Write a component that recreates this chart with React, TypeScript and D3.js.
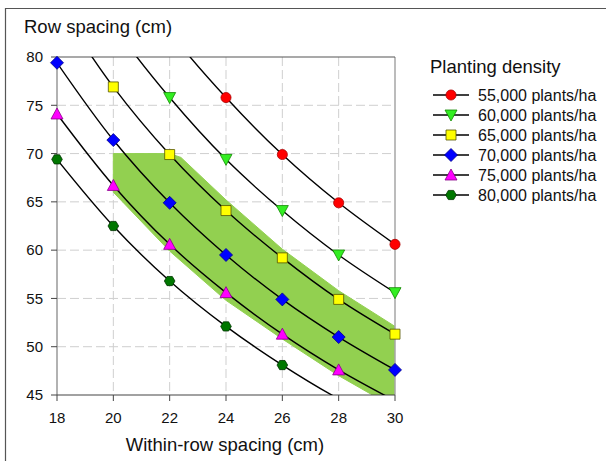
import React from "react";
import * as d3 from "d3";

const withinRow = [18, 20, 22, 24, 26, 28, 30];
const densities = ["55,000 plants/ha", "60,000 plants/ha", "65,000 plants/ha", "70,000 plants/ha", "75,000 plants/ha", "80,000 plants/ha"];
const s55 = [101.0, 90.9, 82.6, 75.8, 69.9, 64.9, 60.6];
const s60 = [92.6, 83.3, 75.8, 69.4, 64.1, 59.5, 55.6];
const s65 = [85.5, 76.9, 69.9, 64.1, 59.2, 54.9, 51.3];
const s70 = [79.4, 71.4, 64.9, 59.5, 54.9, 51.0, 47.6];
const s75 = [74.1, 66.7, 60.6, 55.6, 51.3, 47.6, 44.4];
const s80 = [69.4, 62.5, 56.8, 52.1, 48.1, 44.6, 41.7];
const seriesValues = [s55, s60, s65, s70, s75, s80];

const bandX = [20, 22, 22.4, 24, 26, 28, 30, 30, 29.2, 28, 26, 24, 22, 20];
const bandY = [70, 70, 69.6, 65.2, 60.1, 55.8, 52.1, 45, 45, 47.0, 50.8, 54.8, 59.9, 66.0];

const xTicks = [18, 20, 22, 24, 26, 28, 30];
const yTicks = [45, 50, 55, 60, 65, 70, 75, 80];

const fills = ["#ff0000", "#33ee22", "#ffff00", "#0000ff", "#ff00ff", "#007700"];
const strokes = ["#aa0000", "#118800", "#555500", "#000088", "#880088", "#003300"];
const shapes = ["circle", "tridown", "square", "diamond", "triup", "hexagon"];

const FONT = "'Liberation Sans', Arial, sans-serif";

function markerPath(shape: string): string {
  switch (shape) {
    case "circle":
      return d3.symbol(d3.symbolCircle, 80)()!;
    case "square":
      return "M-5,-5L5,-5L5,5L-5,5Z";
    case "diamond":
      return "M0,-6.5L6.5,0L0,6.5L-6.5,0Z";
    case "triup":
      return "M0,-6L6,5L-6,5Z";
    case "tridown":
      return "M0,6L6,-5L-6,-5Z";
    case "hexagon": {
      const pts = d3.range(6).map((i) => {
        const a = (Math.PI / 3) * i;
        return [5.3 * Math.cos(a), 5.3 * Math.sin(a)];
      });
      return "M" + pts.map((p) => p.join(",")).join("L") + "Z";
    }
  }
  return "";
}

export default function App() {
  const W = 606, H = 461;
  const x = d3.scaleLinear().domain([18, 30]).range([57, 395]);
  const y = d3.scaleLinear().domain([45, 80]).range([395, 57]);

  const line = d3
    .line<[number, number]>()
    .x((d) => x(d[0]))
    .y((d) => y(d[1]))
    .curve(d3.curveCatmullRom.alpha(0.5));

  const bandPath = d3
    .line<[number, number]>()
    .x((d) => x(d[0]))
    .y((d) => y(d[1]))(bandX.map((v, i) => [v, bandY[i]] as [number, number])) + "Z";

  const legendY = [95, 115, 135, 155, 175, 195];

  return (
    <svg width={W} height={H} style={{ position: "absolute", left: 0, top: 0, background: "#fff" }} fontFamily={FONT}>
      <defs>
        <clipPath id="plotclip">
          <rect x={57} y={57} width={338} height={338} />
        </clipPath>
      </defs>
      {/* frame */}
      <line x1={5} y1={8.5} x2={606} y2={8.5} stroke="#555" strokeWidth={1.2} />
      <line x1={5.5} y1={8} x2={5.5} y2={461} stroke="#555" strokeWidth={1.2} />

      {/* gridlines */}
      {yTicks.filter((t) => t > 45 && t < 80).map((t) => (
        <line key={"gy" + t} x1={57} x2={395} y1={y(t)} y2={y(t)} stroke="#cfcfcf" strokeWidth={1} strokeDasharray="9,4" />
      ))}
      {xTicks.filter((t) => t > 18 && t < 30).map((t) => (
        <line key={"gx" + t} y1={57} y2={395} x1={x(t)} x2={x(t)} stroke="#cfcfcf" strokeWidth={1} strokeDasharray="9,4" />
      ))}

      {/* green band */}
      <path d={bandPath} fill="#92d050" stroke="#92d050" strokeWidth={1} strokeLinejoin="round" clipPath="url(#plotclip)" />

      {/* plot border lines */}
      <line x1={x(30)} x2={x(30)} y1={57} y2={395} stroke="#a6a6a6" strokeWidth={1.5} />
      <line x1={57} x2={395} y1={y(80)} y2={y(80)} stroke="#555" strokeWidth={1.2} />
      <line x1={x(18)} x2={x(18)} y1={57} y2={395} stroke="#999" strokeWidth={1.5} />
      <line x1={57} x2={395} y1={y(45)} y2={y(45)} stroke="#444" strokeWidth={1.2} />

      {/* ticks */}
      {yTicks.map((t) => (
        <g key={"ty" + t}>
          <line x1={51} x2={57} y1={y(t)} y2={y(t)} stroke="#444" strokeWidth={1} />
          <text x={43} y={y(t)} dy="0.35em" textAnchor="end" fontSize={15} fill="#111">{t}</text>
        </g>
      ))}
      {xTicks.map((t) => (
        <g key={"tx" + t}>
          <line x1={x(t)} x2={x(t)} y1={395} y2={401} stroke="#444" strokeWidth={1} />
          <text x={x(t)} y={423} textAnchor="middle" fontSize={15} fill="#111">{t}</text>
        </g>
      ))}

      {/* series lines */}
      <g clipPath="url(#plotclip)">
        {seriesValues.map((vals, si) => (
          <path key={"l" + si} d={line(withinRow.map((v, i) => [v, vals[i]] as [number, number]))!} fill="none" stroke="#000" strokeWidth={1.4} />
        ))}
      </g>

      {/* markers */}
      {seriesValues.map((vals, si) =>
        withinRow.map((v, i) =>
          vals[i] >= 45 && vals[i] <= 80 ? (
            <path key={"m" + si + "-" + i} d={markerPath(shapes[si])} transform={`translate(${x(v)},${y(vals[i])})`} fill={fills[si]} stroke={strokes[si]} strokeWidth={0.8} />
          ) : null
        )
      )}

      {/* axis titles */}
      <text x={24} y={33} fontSize={18.5} fill="#111">Row spacing (cm)</text>
      <text x={225} y={451} textAnchor="middle" fontSize={18.5} fill="#111">Within-row spacing (cm)</text>

      {/* legend */}
      <text x={430} y={73} fontSize={18.5} fill="#111">Planting density</text>
      {densities.map((name, i) => (
        <g key={"lg" + i} transform={`translate(0,${legendY[i]})`}>
          <line x1={433} x2={469} y1={0} y2={0} stroke="#000" strokeWidth={1.4} />
          <path d={markerPath(shapes[i])} transform="translate(451,0)" fill={fills[i]} stroke={strokes[i]} strokeWidth={0.8} />
          <text x={478} y={0} dy="0.35em" fontSize={16} fill="#111">{name}</text>
        </g>
      ))}
    </svg>
  );
}
